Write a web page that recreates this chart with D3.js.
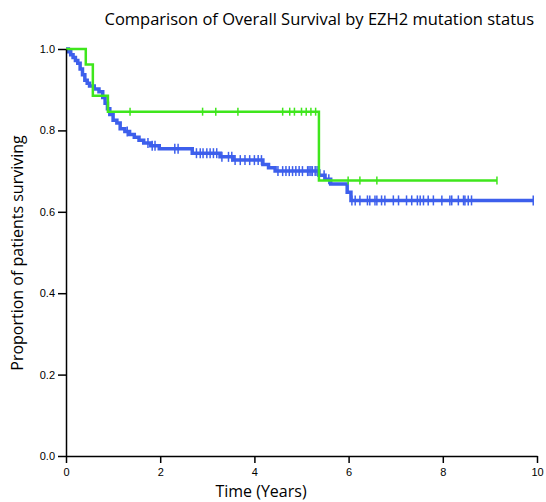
<!DOCTYPE html>
<html>
<head>
<meta charset="utf-8">
<script src="https://cdn.jsdelivr.net/npm/d3@7"></script>
<style>
  body { margin: 0; background: #fff; }
  svg { display: block; }
</style>
</head>
<body>
<svg width="546" height="502"></svg>
<script>
// wild-type (blue): step times and survival after each step
const blueTimes = [0.05, 0.1, 0.15, 0.2, 0.25, 0.3, 0.35, 0.4, 0.45, 0.5, 0.6, 0.7, 0.78, 0.83, 0.88, 0.93, 1.0, 1.08, 1.15, 1.25, 1.35, 1.45, 1.55, 1.65, 1.8, 1.98, 2.68, 3.27, 3.55, 4.18, 4.3, 4.44, 5.37, 5.5, 5.62, 5.97, 6.05];
const blueSurv = [0.993, 0.986, 0.979, 0.972, 0.965, 0.951, 0.937, 0.923, 0.916, 0.909, 0.902, 0.895, 0.881, 0.867, 0.853, 0.839, 0.825, 0.818, 0.804, 0.797, 0.790, 0.783, 0.776, 0.769, 0.762, 0.755, 0.744, 0.735, 0.727, 0.716, 0.708, 0.700, 0.690, 0.680, 0.668, 0.648, 0.628];
const blueCensor = [1.3, 1.74, 1.83, 1.89, 2.31, 2.38, 2.77, 2.85, 2.91, 2.99, 3.06, 3.13, 3.2, 3.31, 3.45, 3.52, 3.59, 3.7, 3.8, 3.9, 4.0, 4.08, 4.15, 4.5, 4.6, 4.67, 4.74, 4.81, 4.88, 4.95, 5.02, 5.13, 5.16, 5.2, 5.23, 5.29, 5.33, 5.48, 5.58, 6.07, 6.14, 6.24, 6.4, 6.45, 6.56, 6.6, 6.7, 6.77, 6.95, 7.06, 7.23, 7.34, 7.46, 7.52, 7.59, 7.69, 7.8, 7.98, 8.15, 8.19, 8.33, 8.44, 8.47, 8.54, 8.61, 9.92];
const blueEnd = 9.92;

// EZH2 mutated (green)
const greenTimes = [0.42, 0.57, 0.89, 5.37];
const greenSurv = [0.962, 0.885, 0.846, 0.677];
const greenCensor = [1.36, 2.9, 3.18, 3.65, 4.6, 4.75, 4.85, 5.0, 5.1, 5.2, 5.3, 5.99, 6.24, 6.6, 9.15];
const greenEnd = 9.15;

const xTicks = [0, 2, 4, 6, 8, 10];
const yTicks = [0, 0.2, 0.4, 0.6, 0.8, 1.0];

const svg = d3.select('svg');
const x = d3.scaleLinear().domain([0, 10]).range([66, 537]);
const y = d3.scaleLinear().domain([0, 1]).range([456, 49]);

// build step points for a curve
function stepPoints(times, surv, end) {
  const pts = [{t: 0, s: 1}];
  times.forEach((t, i) => pts.push({t: t, s: surv[i]}));
  pts.push({t: end, s: surv[surv.length - 1]});
  return pts;
}
function survAt(times, surv, t) {
  let s = 1;
  times.forEach((tt, i) => { if (tt <= t) s = surv[i]; });
  return s;
}

const line = d3.line().x(d => x(d.t)).y(d => y(d.s)).curve(d3.curveStepAfter);

const series = [
  {times: blueTimes, surv: blueSurv, censor: blueCensor, end: blueEnd, color: '#3d5fec', w: 3.5, tick: 5},
  {times: greenTimes, surv: greenSurv, censor: greenCensor, end: greenEnd, color: '#3fe61c', w: 2.5, tick: 4}
];

series.forEach(sr => {
  svg.append('path')
    .attr('d', line(stepPoints(sr.times, sr.surv, sr.end)))
    .attr('fill', 'none')
    .attr('stroke', sr.color)
    .attr('stroke-width', sr.w);
  svg.selectAll(null)
    .data(sr.censor)
    .enter()
    .append('line')
    .attr('x1', d => x(d)).attr('x2', d => x(d))
    .attr('y1', d => y(survAt(sr.times, sr.surv, d)) - sr.tick)
    .attr('y2', d => y(survAt(sr.times, sr.surv, d)) + sr.tick)
    .attr('stroke', sr.color)
    .attr('stroke-width', 1.5);
});

// axes
const yAxis = svg.append('g')
  .attr('transform', 'translate(66,0)')
  .call(d3.axisLeft(y).tickValues(yTicks).tickFormat(d3.format('.1f')).tickSize(8).tickSizeOuter(0).tickPadding(3));
const xAxis = svg.append('g')
  .attr('transform', 'translate(0,456)')
  .call(d3.axisBottom(x).tickValues(xTicks).tickSize(7).tickSizeOuter(0).tickPadding(5));

[yAxis, xAxis].forEach(g => {
  g.selectAll('path, line').attr('stroke', '#000').attr('stroke-width', 1.5);
  g.selectAll('text').attr('font-family', 'Liberation Sans, Arial, sans-serif').attr('font-size', 11).attr('fill', '#000');
});

svg.append('text')
  .attr('x', 261).attr('y', 497)
  .attr('text-anchor', 'middle')
  .attr('font-family', 'Open Sans, sans-serif')
  .attr('font-size', 16)
  .text('Time (Years)');

svg.append('text')
  .attr('transform', 'translate(23,253) rotate(-90)')
  .attr('text-anchor', 'middle')
  .attr('font-family', 'Open Sans, sans-serif')
  .attr('font-size', 16)
  .text('Proportion of patients surviving');

svg.append('text')
  .attr('x', 534).attr('y', 25)
  .attr('text-anchor', 'end')
  .attr('font-family', 'Open Sans, sans-serif')
  .attr('font-size', 16.5)
  .text('Comparison of Overall Survival by EZH2 mutation status');
</script>
</body>
</html>
